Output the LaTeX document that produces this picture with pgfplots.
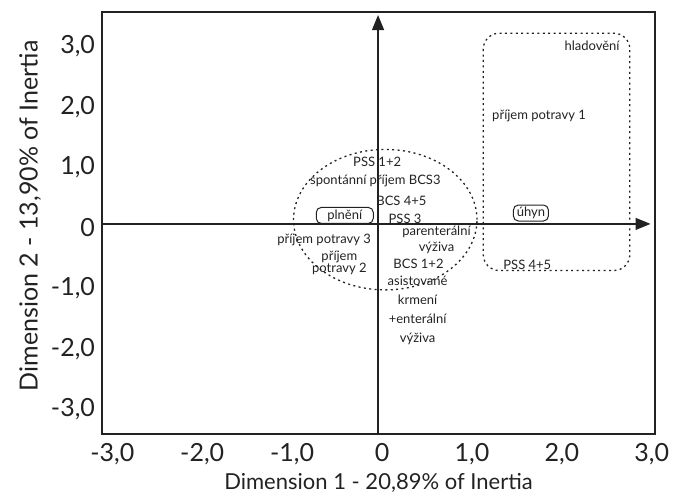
\documentclass[border=0pt]{standalone}
\usepackage{fontspec}
\setmainfont{Lato}
\usepackage{pgfplots}
\pgfplotsset{compat=1.18}
\usetikzlibrary{arrows.meta}

\definecolor{ink}{HTML}{222222}

\pgfplotsset{
  lbl/.style={draw=none, nodes near coords, point meta=explicit symbolic,
    nodes near coords align=center,
    every node near coord/.append style={font=\fontsize{6.5}{8}\selectfont,
      text=ink, align=center, inner sep=0pt}},
  boxlbl/.style={lbl, every node near coord/.append style={draw=ink,
      line width=0.5pt, rounded corners=2.5pt, minimum height=8pt}},
}

\begin{document}
\begin{tikzpicture}
\useasboundingbox (-51pt,-31.5pt) rectangle (286pt,217pt);
\begin{axis}[
  scale only axis, width=276.5pt, height=211pt,
  xmin=-3.07, xmax=3.08, ymin=-3.47, ymax=3.50,
  axis line style={line width=0.75pt, ink},
  xtick={-3,-2,-1,0,1,2,3}, ytick={-3,-2,-1,0,1,2,3},
  xticklabels={{-3,0},{-2,0},{-1,0},0,{1,0},{2,0},{3,0}},
  yticklabels={{-3,0},{-2,0},{-1,0},0,{1,0},{2,0},{3,0}},
  major tick length=0pt,
  tick label style={font=\fontsize{12.5}{14}\selectfont, text=ink},
  xticklabel style={yshift=-1pt, xshift=2pt},
  yticklabel style={yshift=-2pt},
  xlabel={Dimension 1 - 20,89\% of Inertia},
  ylabel={Dimension 2 - 13,90\% of Inertia},
  xlabel style={font=\fontsize{11}{13}\selectfont, text=ink,
    at={(axis description cs:0.5,-0.116)}, anchor=center},
  ylabel style={font=\fontsize{12.5}{14}\selectfont, text=ink,
    at={(axis description cs:-0.13,0.517)}, anchor=center, rotate=0},
]
% axes through the origin
\draw[line width=0.6pt, ink, -{Triangle[length=7.5pt,width=6pt]}]
  (axis cs:0,-3.47) -- (axis cs:0,3.45);
\draw[line width=0.6pt, ink, -{Triangle[length=7.5pt,width=6pt]}]
  (axis cs:-3.07,0) -- (axis cs:3.03,0);

% groupings
\draw[ink, line width=0.65pt, dash pattern=on 1pt off 1.7pt]
  (axis cs:0.08,0.07) ellipse [x radius=1.02, y radius=1.16];
\draw[ink, line width=0.65pt, dash pattern=on 1pt off 1.7pt, rounded corners=8pt]
  (axis cs:1.17,3.15) rectangle (axis cs:2.80,-0.77);

% category points (labels only)
\addplot[lbl] coordinates {
  (-0.01,1.02) [PSS 1+2]
  (-0.03,0.71) [spontánní příjem BCS3]
  (0.26,0.38) [BCS 4+5]
  (0.30,0.09) [PSS 3]
  (-0.60,-0.27) [příjem potravy 3]
  (0.45,-0.66) [BCS 1+2]
  (2.38,2.94) [hladovění]
  (1.79,1.78) [příjem potravy 1]
  (1.66,-0.67) [PSS 4+5]
};
\addplot[lbl] coordinates {(0.65,-0.26) [parenterální\\výživa]};
\addplot[lbl, every node near coord/.append style={font=\fontsize{6.5}{6}\selectfont}]
  coordinates {(-0.43,-0.64) [příjem\\potravy 2]};
\addplot[lbl, every node near coord/.append style={font=\fontsize{6.5}{9.5}\selectfont}]
  coordinates {(0.44,-1.43) [asistované\\krmení\\+enterální\\výživa]};
\addplot[boxlbl, every node near coord/.append style={minimum width=28.5pt}]
  coordinates {(-0.37,0.14) [plnění]};
\addplot[boxlbl, every node near coord/.append style={minimum width=17.5pt}]
  coordinates {(1.70,0.18) [úhyn]};
\end{axis}
\end{tikzpicture}
\end{document}
